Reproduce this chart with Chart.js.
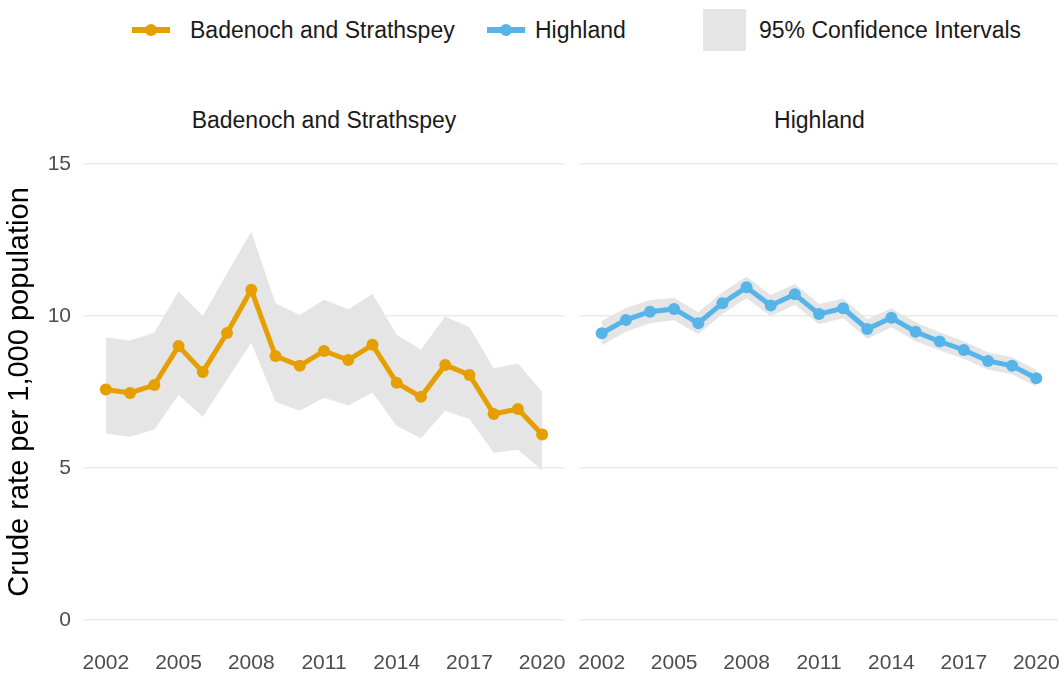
<!DOCTYPE html>
<html>
<head>
<meta charset="utf-8">
<script src="https://cdn.jsdelivr.net/npm/chart.js@4/dist/chart.umd.min.js"></script>
<style>
  body { margin: 0; background: #fff; font-family: "Liberation Sans", Arial, sans-serif; }
  #wrap { position: relative; width: 1064px; height: 677px; overflow: hidden; }
  canvas { position: absolute; }
  .txt { position: absolute; color: #1a1a1a; font-size: 23px; white-space: nowrap; line-height: 1; }
  .key { position: absolute; height: 6px; }
  .dot { position: absolute; width: 12px; height: 12px; border-radius: 50%; }
  .strip { position: absolute; text-align: center; color: #1a1a1a; font-size: 23px; line-height: 1; }
</style>
</head>
<body>
<div id="wrap">
  <!-- legend -->
  <div class="key" style="left:132px;top:27px;width:38px;background:#E69F00"></div>
  <div class="dot" style="left:145px;top:24px;background:#E69F00"></div>
  <div class="txt" style="left:190px;top:19px">Badenoch and Strathspey</div>
  <div class="key" style="left:487px;top:27px;width:38px;background:#56B4E9"></div>
  <div class="dot" style="left:500px;top:24px;background:#56B4E9"></div>
  <div class="txt" style="left:535px;top:19px">Highland</div>
  <div style="position:absolute;left:703px;top:9px;width:43px;height:42px;background:#e5e5e5"></div>
  <div class="txt" style="left:759px;top:19px">95% Confidence Intervals</div>

  <!-- facet strips -->
  <div class="strip" style="left:84px;width:480px;top:109px">Badenoch and Strathspey</div>
  <div class="strip" style="left:580px;width:479px;top:109px">Highland</div>

  <canvas id="left" width="572" height="547" style="left:0;top:130px"></canvas>
  <canvas id="right" width="492" height="547" style="left:572px;top:130px"></canvas>
</div>
<script>
const years = [2002, 2003, 2004, 2005, 2006, 2007, 2008, 2009, 2010, 2011,
               2012, 2013, 2014, 2015, 2016, 2017, 2018, 2019, 2020];
const xTicks = [2002, 2005, 2008, 2011, 2014, 2017, 2020];
const yTicks = [0, 5, 10, 15];

// Badenoch and Strathspey
const bsRate  = [7.58, 7.47, 7.73, 9.01, 8.16, 9.44, 10.86, 8.68, 8.36, 8.85,
                 8.55, 9.05, 7.80, 7.34, 8.39, 8.06, 6.78, 6.94, 6.10];
const bsUpper = [9.30, 9.19, 9.45, 10.80, 10.00, 11.40, 12.77, 10.42, 10.03, 10.53,
                 10.22, 10.72, 9.38, 8.90, 9.98, 9.63, 8.28, 8.44, 7.51];
const bsLower = [6.14, 6.03, 6.27, 7.40, 6.69, 7.90, 9.12, 7.18, 6.88, 7.31,
                 7.06, 7.48, 6.38, 5.98, 6.88, 6.61, 5.50, 5.60, 4.93];

// Highland
const hiRate  = [9.43, 9.87, 10.14, 10.23, 9.76, 10.42, 10.94, 10.34, 10.71, 10.06,
                 10.25, 9.57, 9.94, 9.48, 9.16, 8.88, 8.52, 8.36, 7.95];
const hiUpper = [9.83, 10.26, 10.52, 10.60, 10.12, 10.78, 11.30, 10.69, 11.05, 10.39,
                 10.57, 9.89, 10.25, 9.79, 9.46, 9.17, 8.81, 8.64, 8.22];
const hiLower = [9.03, 9.48, 9.76, 9.86, 9.40, 10.06, 10.58, 9.99, 10.37, 9.73,
                 9.93, 9.25, 9.63, 9.17, 8.86, 8.59, 8.23, 8.08, 7.68];

const pts = arr => arr.map((v, i) => ({ x: years[i], y: v }));

function makeChart(id, rate, upper, lower, colour, showY) {
  new Chart(document.getElementById(id), {
    type: 'line',
    data: {
      datasets: [
        {
          data: pts(rate),
          borderColor: colour,
          backgroundColor: colour,
          borderWidth: 5,
          pointRadius: 6,
          pointBorderWidth: 0,
          pointBackgroundColor: colour,
          fill: false,
          tension: 0
        },
        {
          data: pts(upper),
          borderWidth: 0,
          pointRadius: 0,
          backgroundColor: '#e5e5e5',
          fill: '+1',
          tension: 0
        },
        {
          data: pts(lower),
          borderWidth: 0,
          pointRadius: 0,
          fill: false,
          tension: 0
        }
      ]
    },
    options: {
      responsive: false,
      animation: false,
      layout: { padding: { top: 11, right: showY ? 8 : 5, left: 0, bottom: 0 } },
      plugins: { legend: { display: false }, tooltip: { enabled: false } },
      scales: {
        x: {
          type: 'linear',
          min: 2001.1,
          max: 2020.9,
          afterBuildTicks: s => { s.ticks = xTicks.map(v => ({ value: v })); },
          afterFit: s => { s.height = 34; s.paddingLeft = 0; s.paddingRight = 0; },
          grid: { display: false, drawTicks: false },
          border: { display: false },
          ticks: {
            padding: 8,
            color: '#4d4d4d',
            font: { family: 'Liberation Sans', size: 21 },
            callback: v => String(v),
            maxRotation: 0,
            autoSkip: false
          }
        },
        y: {
          min: -0.75,
          max: 15.75,
          afterBuildTicks: s => { s.ticks = yTicks.map(v => ({ value: v })); },
          afterFit: s => { s.width = showY ? 84 : 8; s.paddingTop = 0; s.paddingBottom = 0; },
          grid: { color: '#ebebeb', lineWidth: 1.6, drawTicks: false },
          border: { display: false },
          ticks: {
            display: showY,
            padding: 13,
            color: '#4d4d4d',
            font: { family: 'Liberation Sans', size: 21 },
            callback: v => String(v)
          },
          title: {
            display: showY,
            text: 'Crude rate per 1,000 population',
            color: '#000',
            font: { family: 'Liberation Sans', size: 29 },
            padding: 3
          }
        }
      }
    }
  });
}

makeChart('left', bsRate, bsUpper, bsLower, '#E69F00', true);
makeChart('right', hiRate, hiUpper, hiLower, '#56B4E9', false);
</script>
</body>
</html>
